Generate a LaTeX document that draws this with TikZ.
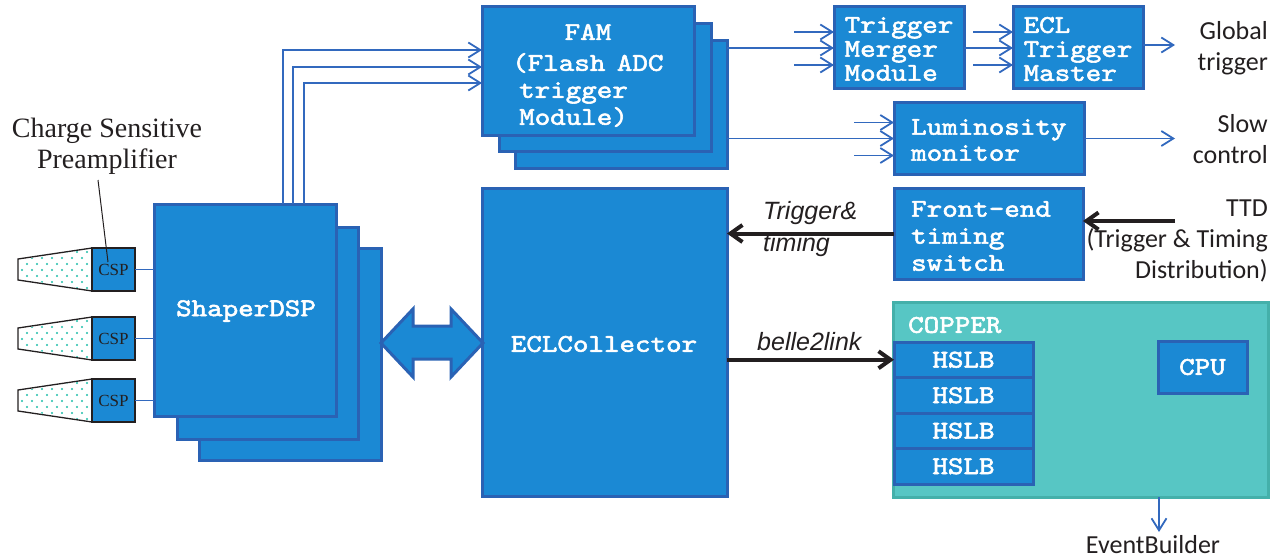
\documentclass[tikz,border=0pt]{standalone}
\usepackage{fontspec}
\setmainfont{Liberation Serif}
\newfontfamily\carl{Carlito}
\newfontfamily\helv{Liberation Sans}
\newfontfamily\monob[FakeBold=2.2,FakeStretch=1.16]{lmmono10-regular.otf}
\usetikzlibrary{arrows.meta,calc}

\definecolor{boxblue}{RGB}{27,137,212}
\definecolor{boxedge}{RGB}{42,98,180}
\definecolor{linkblue}{RGB}{50,105,190}
\definecolor{copperfill}{RGB}{87,198,196}
\definecolor{copperedge}{RGB}{68,176,170}
\definecolor{dotteal}{RGB}{32,190,170}
\definecolor{ink}{RGB}{35,31,32}

% heavy typewriter face used inside the boxes
\newcommand\boxfont[1]{\monob\fontsize{25.5}{#1}\selectfont}

\begin{document}
\begin{tikzpicture}[x=1pt,y=-1pt,
  blk/.style={draw=boxedge, fill=boxblue, line width=3pt, inner sep=0pt, outer sep=0pt, anchor=north west},
  cspbox/.style={draw=ink, fill=boxblue, line width=1.3pt, inner sep=0pt, outer sep=0pt, anchor=north west,
                 minimum width=43pt, minimum height=43pt, font=\fontsize{17}{17}\selectfont, text=ink},
  mono/.style={text=white, font=\boxfont{27}, inner sep=0pt},
  side/.style={text=ink, font=\carl\fontsize{26}{31}\selectfont, inner sep=0pt, align=right, anchor=east},
  lbl/.style={text=ink, font=\helv\itshape\fontsize{25}{32}\selectfont, inner sep=0pt, align=left, anchor=west},
  link/.style={draw=linkblue, line width=1.8pt},
  linkarr/.style={link, -{Straight Barb[length=12pt,width=15pt]}},
  blackarr/.style={draw=ink, line width=4pt, -{Straight Barb[length=12pt,width=17pt]}},
]
\useasboundingbox (0,0) rectangle (1285,559);

% ---------- crystals with preamplifiers ----------
\foreach \k/\dy in {1/0, 2/69, 3/131}{
  \begin{scope}[shift={(0,\dy)}]
    \draw[ink, line width=1.3pt, fill=white] (18,259) -- (92,248) -- (92,291) -- (18,280) -- cycle;
    \begin{scope}
      \clip (19,260) -- (91,249) -- (91,290) -- (19,279) -- cycle;
      \foreach \r in {0,...,8}{
        \foreach \c in {0,...,8}{
          \fill[dotteal] ({22+10*\c+5*mod(\r,2)}, {246+6*\r}) circle[radius=1.1pt];
        }
      }
    \end{scope}
    \node[cspbox] (csp\k) at (92,248) {CSP};
  \end{scope}
}

\node[text=ink, font=\fontsize{28}{31}\selectfont, align=center, inner sep=0pt] (cspnote) at (107,146)
  {Charge Sensitive\\Preamplifier};
\coordinate (leadtop) at (98,180);
\draw[ink, line width=1pt] (leadtop) -- ($(csp1.north west)+(16,14)$);

% ---------- ShaperDSP stack ----------
\node[blk, minimum width=182pt, minimum height=212pt] (shp3) at (199,248) {};
\node[blk, minimum width=181pt, minimum height=212pt] (shp2) at (177,227) {};
\node[blk, minimum width=182pt, minimum height=212pt] (shp1) at (154,204) {};
\node[mono] (shptxt) at (246,311) {ShaperDSP};

\foreach \k in {1,2,3}{
  \draw[link, line width=1.5pt] (csp\k.east) -- (shp1.west |- csp\k.east);
}

% ---------- FAM stack ----------
\node[blk, minimum width=212pt, minimum height=127pt] (fam3) at (515,41) {};
\node[blk, minimum width=212pt, minimum height=128pt] (fam2) at (499,24) {};
\node[blk, minimum width=212pt, minimum height=129pt] (fam1) at (482,7) {};
\node[mono] (famtitle) at (588,32) {FAM};
\node[mono, align=left, anchor=west] (famtxt) at (512,90)
  {(Flash\hspace{-4pt} ADC\\\hspace*{7pt}trigger\\\hspace*{7pt}Module)};

% ShaperDSP -> FAM
\draw[linkarr] ($(shp1.north west)+(129,0)$) |- ($(fam1.north west)+(0,43)$);
\draw[linkarr] ($(shp1.north west)+(139,0)$) |- ($(fam1.north west)+(0,60)$);
\draw[linkarr] ($(shp1.north west)+(150,0)$) |- ($(fam1.north west)+(0,76)$);

% ---------- trigger chain ----------
\node[blk, minimum width=130pt, minimum height=82pt] (tmm) at (834,7) {};
\node[mono, align=left, font=\boxfont{24}] (tmmtxt) at (899,49) {Trigger\\Merger\\Module};
\node[blk, minimum width=130pt, minimum height=82pt] (ectm) at (1013,7) {};
\node[mono, align=left, font=\boxfont{24}] (ectmtxt) at (1078,49) {ECL\\Trigger\\Master};

\draw[linkarr] (fam3.east |- tmm.west) -- (tmm.west);
\draw[linkarr] ($(tmm.west)+(-40,-16)$) -- ($(tmm.west)+(0,-16)$);
\draw[linkarr] ($(tmm.west)+(-40,17)$) -- ($(tmm.west)+(0,17)$);
\draw[linkarr] (tmm.east) -- (ectm.west);
\draw[linkarr] ($(ectm.west)+(-40,-16)$) -- ($(ectm.west)+(0,-16)$);
\draw[linkarr] ($(ectm.west)+(-40,17)$) -- ($(ectm.west)+(0,17)$);
\coordinate (gtend) at (1175,45);
\draw[linkarr] (ectm.east |- gtend) -- (gtend);
\node[side] (gt) at (1268,48) {Global\\trigger};

% ---------- luminosity monitor ----------
\node[blk, minimum width=190pt, minimum height=71pt] (lumi) at (894,103) {};
\node[mono, align=left, anchor=west, font=\boxfont{26}] (lumitxt) at (911,140) {Luminosity\\monitor};
\draw[linkarr] (fam3.east |- lumi.west) -- (lumi.west);
\draw[linkarr] ($(lumi.west)+(-40,-16)$) -- ($(lumi.west)+(0,-16)$);
\draw[linkarr] ($(lumi.west)+(-40,17)$) -- ($(lumi.west)+(0,17)$);
\coordinate (scend) at (1175,138.5);
\draw[linkarr] (lumi.east) -- (scend);
\node[side] (sc) at (1268,139) {Slow\\control};

% ---------- ECLCollector and timing ----------
\node[blk, minimum width=245pt, minimum height=308pt] (eclc) at (482,188) {};
\node[mono] (eclctxt) at (604,344) {ECLCollector};

\node[blk, minimum width=189pt, minimum height=91pt] (fets) at (894,188) {};
\node[mono, align=left, anchor=west] (fetstxt) at (911,236) {Front-end\\timing\\switch};

\coordinate (ttdstart) at (1175,221);
\draw[blackarr] (ttdstart) -- (fets.east |- ttdstart);
\node[side] (ttd) at (1268,241) {TTD\\(Trigger \& Timing\\Distribution)};

\draw[blackarr] (fets.west) -- (eclc.east |- fets.west);
\node[lbl] (tt) at (763,229) {Trigger\&\\timing};

% double arrow between ShaperDSP and ECLCollector
\draw[draw=boxedge, fill=boxblue, line width=3pt, line join=miter]
  (381,343) -- (413,309) -- (413,326) -- (451,326) -- (451,309) -- (483,343)
  -- (451,377) -- (451,359) -- (413,359) -- (413,377) -- cycle;

% ---------- COPPER ----------
\node[draw=copperedge, fill=copperfill, line width=3pt, inner sep=0pt, outer sep=0pt, anchor=north west,
      minimum width=375pt, minimum height=195pt] (copper) at (893,302) {};
\node[mono, anchor=west] (coppertxt) at (908,325) {COPPER};

\foreach \k/\yy in {1/342, 2/377.5, 3/413, 4/448.5}{
  \node[blk, minimum width=139pt, minimum height=35.5pt] (hslb\k) at (894,\yy) {};
  \node[mono] at (hslb\k.center) {HSLB};
}
\node[blk, minimum width=89pt, minimum height=52pt] (cpu) at (1158,341) {};
\node[mono] (cputxt) at (cpu.center) {CPU};

\draw[blackarr] (eclc.east |- hslb1.west) -- (hslb1.west);
\node[lbl] (b2l) at (757,342) {belle2link};

\coordinate (ebtip) at (1159,532);
\draw[linkarr] (copper.south -| ebtip) -- (ebtip);
\node[text=ink, font=\carl\fontsize{26}{26}\selectfont, inner sep=0pt] (eb) at (1153,545) {EventBuilder};

\end{tikzpicture}
\end{document}
